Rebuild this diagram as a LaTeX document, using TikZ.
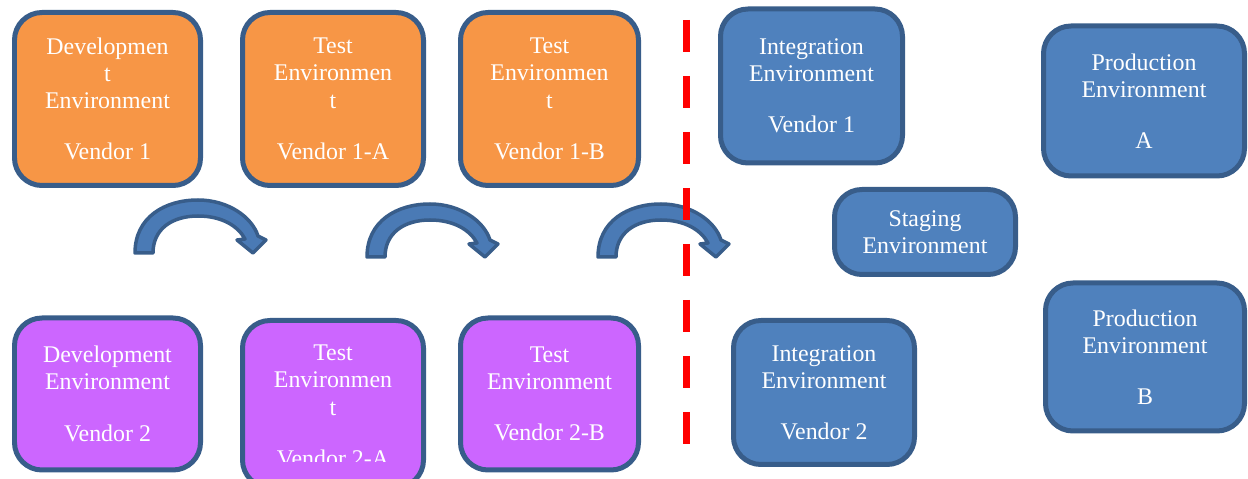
\documentclass[tikz,border=0pt]{standalone}
\usepackage{fontspec}
\setmainfont{Liberation Serif}

\definecolor{envorange}{HTML}{F79646}
\definecolor{envpurple}{HTML}{CC66FF}
\definecolor{envblue}{HTML}{4F81BD}
\definecolor{envline}{HTML}{385D8A}
\definecolor{arrowfill}{HTML}{4A7AB5}

\tikzset{
	envbox/.style={draw=envline, line width=0.1cm, rounded corners=0.55cm,%
		text=white, align=center, inner sep=0pt,%
		font=\fontsize{13.6}{15.4}\selectfont},
	bentarrow/.style={fill=arrowfill, draw=envline, line width=0.07cm, line join=round}
}

\begin{document}
\begin{tikzpicture}[x=0.02cm, y=-0.02cm]
\useasboundingbox (0,0) rectangle (1248,479);

% vendor boxes
\foreach \a/\px/\py/\w/\h/\c/\t in {%
	devOne/107.5/99/191/178/envorange/{Developmen\\t\\Environment\\[13.8pt]Vendor 1},%
	testOneA/333/99/186/178/envorange/{Test\\Environmen\\t\\[13.8pt]Vendor 1-A},%
	testOneB/549.5/99/183/178/envorange/{Test\\Environmen\\t\\[13.8pt]Vendor 1-B},%
	devTwo/107.5/394/191/157/envpurple/{Development\\Environment\\[13.8pt]Vendor 2},%
	testTwoB/549.5/394/183/157/envpurple/{Test\\Environment\\[13.8pt]Vendor 2-B},%
	intOne/811.5/86/187/159/envblue/{Integration\\Environment\\[13.8pt]Vendor 1},%
	intTwo/824/392.5/186/149/envblue/{Integration\\Environment\\[13.8pt]Vendor 2},%
	staging/925/232/186/90/envblue/{Staging\\Environment},%
	prodA/1144/101/206/155/envblue/{Production\\Environment\\[13.8pt]A},%
	prodB/1145/357/204/153/envblue/{Production\\Environment\\[13.8pt]B}}
	\node [envbox, fill=\c, minimum width={(\w-5)*0.02cm},%
		minimum height={(\h-5)*0.02cm}] (\a) at (\px,\py) {\t};

% this one runs off the page, its text is cut
\node [envbox, fill=envpurple, minimum width={181*0.02cm},%
	minimum height={167*0.02cm}] (testTwoA) at (333,404) {};
\begin{scope}
	\clip (240,318) rectangle (426,462);
	\node [envbox, draw=none, fill=none] (testTwoAtext) at (333,406) {Test\\Environmen\\t\\[13.8pt]Vendor 2-A};
\end{scope}

% bent arrows between the rows
\foreach \dx/\dy in {0/0,232/4,463/4}
	\draw [bentarrow, shift={(\dx,\dy)}] (135,253)
		.. controls (135,217) and (165,200) .. (198,200)
		.. controls (228,200) and (252,217) .. (258,236)
		-- (266,240) -- (253,253) -- (237,240) -- (245,239)
		.. controls (238,226) and (222,216) .. (198,216)
		.. controls (172,216) and (153,229) .. (153,253) -- cycle;

% red cut line
\coordinate (cutTop) at (686,20);
\coordinate (cutBottom) at (686,444);
\draw [red, line width=0.14cm, dash pattern=on 0.64cm off 0.48cm] (cutTop) -- (cutBottom);

\end{tikzpicture}
\end{document}
